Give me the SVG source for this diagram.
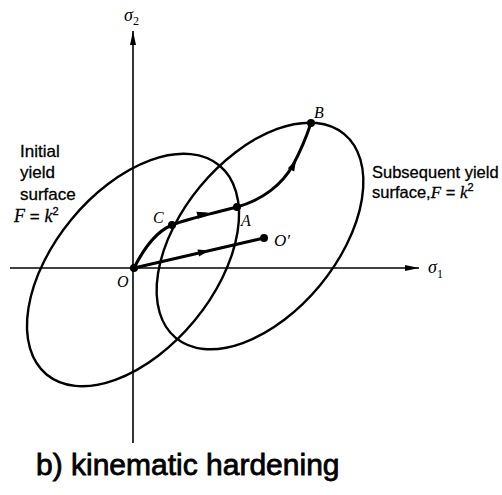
<svg xmlns="http://www.w3.org/2000/svg" width="502" height="495" viewBox="0 0 502 495">
<style>
.ax{stroke:#000;stroke-width:1.6;fill:none}
.ell{stroke:#000;stroke-width:2.4;fill:none}
.pth{stroke:#000;stroke-width:3;fill:none;stroke-linecap:round}
.lbl{font-family:"Liberation Sans","DejaVu Sans",sans-serif;fill:#000;stroke:#000;stroke-width:0.3}
.it{font-family:"Liberation Serif","DejaVu Serif",serif;font-style:italic;fill:#000}
.title{font-family:"Liberation Sans",Arial,sans-serif;font-size:30px;fill:#000;stroke:#000;stroke-width:0.8}
</style>
<defs>
<marker id="axhead" markerWidth="14" markerHeight="8" refX="14" refY="4" orient="auto" markerUnits="userSpaceOnUse">
<path d="M0,1 L14,4 L0,7 Z" fill="#000"/>
</marker>
<path id="head" d="M0,0 L-11,-3.6 L-11,3.6 Z" fill="#000"/>
</defs>
<g id="connectors">
<line class="ax" x1="133" y1="443" x2="133" y2="31" marker-end="url(#axhead)"/>
<line class="ax" x1="10" y1="268" x2="419" y2="268" marker-end="url(#axhead)"/>
<path class="pth" d="M134,268 L264,238"/>
<path class="pth" d="M134,268 C142,252 155,232 172,225 C190,218 215,213 237,207 C262,200 282,185 293,165 C300,152 306,138 311,123"/>
<use href="#head" transform="translate(209,250.5) rotate(-13)"/>
<use href="#head" transform="translate(208,212.5) rotate(-15)"/>
<use href="#head" transform="translate(296,160) rotate(-63)"/>
</g>
<g id="initial-surface">
<ellipse class="ell" cx="0" cy="0" rx="135.6" ry="79.7" transform="translate(133,270) rotate(-50.4)"/>
</g>
<g id="subsequent-surface">
<ellipse class="ell" cx="0" cy="0" rx="132.2" ry="77.7" transform="translate(260,236) rotate(-50.4)"/>
</g>
<g id="point-O"><circle cx="134" cy="268" r="4"/><text class="it" x="117" y="287" font-size="16">O</text></g>
<g id="point-C"><circle cx="172" cy="225" r="4"/><text class="it" x="153" y="223" font-size="16">C</text></g>
<g id="point-A"><circle cx="237" cy="207" r="4"/><text class="it" x="241" y="226" font-size="16">A</text></g>
<g id="point-B"><circle cx="311" cy="123" r="4"/><text class="it" x="314" y="118" font-size="16">B</text></g>
<g id="point-Oprime"><circle cx="264" cy="238" r="4"/><text class="it" x="274" y="246" font-size="17">O′</text></g>
<g id="axis-labels">
<text class="it" x="124" y="21" font-size="18">σ<tspan font-size="12" dy="4" font-style="normal">2</tspan></text>
<text class="it" x="428" y="273" font-size="18">σ<tspan font-size="12" dy="5" font-style="normal">1</tspan></text>
</g>
<g id="label-initial" class="lbl" font-size="17">
<text x="20" y="157">Initial</text>
<text x="20" y="178">yield</text>
<text x="20" y="200">surface</text>
<text x="14" y="222"><tspan class="it" font-size="18">F</tspan> = <tspan class="it" font-size="18">k</tspan><tspan font-size="11" dy="-7">2</tspan></text>
</g>
<g id="label-subsequent" class="lbl" font-size="16.5">
<text x="372" y="178">Subsequent yield</text>
<text x="372" y="198">surface,<tspan class="it" font-size="17">F</tspan> = <tspan class="it" font-size="17">k</tspan><tspan font-size="11" dy="-7">2</tspan></text>
</g>
<text class="title" x="36" y="475">b) kinematic hardening</text>
</svg>
